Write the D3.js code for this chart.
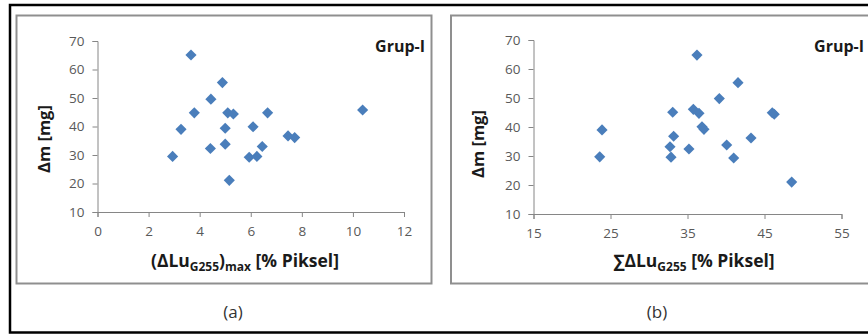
<!DOCTYPE html>
<html>
<head>
<meta charset="utf-8">
<script src="https://cdn.jsdelivr.net/npm/d3@7"></script>
<style>
  html, body { margin: 0; padding: 0; background: #fff; }
  svg { display: block; font-family: "Open Sans", "DejaVu Sans", sans-serif; }
</style>
</head>
<body>
<svg id="chart" width="868" height="335"></svg>
<script>
// Panel (a): maximum luminance change vs. mass loss
const maxLuX = [3.66, 4.89, 4.44, 3.79, 5.10, 5.32, 6.66, 10.38, 3.27, 5.00,
                6.09, 7.46, 7.72, 4.42, 5.00, 6.45, 2.94, 5.94, 6.24, 5.16];
const maxLuY = [65.1, 55.4, 49.6, 44.8, 44.8, 44.4, 44.8, 45.8, 39.0, 39.4,
                39.9, 36.7, 36.1, 32.3, 33.8, 33.0, 29.5, 29.2, 29.5, 21.1];

// Panel (b): summed luminance change vs. mass loss
const sumLuX = [36.23, 41.56, 39.13, 33.08, 35.76, 36.49, 46.01, 46.27, 23.90, 36.88,
                37.14, 33.20, 43.25, 32.73, 35.19, 40.09, 23.60, 32.86, 41.00, 48.53];
const sumLuY = [64.8, 55.3, 49.8, 45.1, 46.1, 44.7, 44.9, 44.4, 39.0, 40.1,
                39.2, 36.8, 36.2, 33.2, 32.4, 33.8, 29.7, 29.6, 29.3, 21.0];

const xTicksA = [0, 2, 4, 6, 8, 10, 12];
const xTicksB = [15, 25, 35, 45, 55];
const yTicks = [10, 20, 30, 40, 50, 60, 70];

const svg = d3.select("#chart");
const axisColor = "#868686";
const tickColor = "#595959";
const markColor = "#4a7ebb";

// outer frame
svg.append("path")
  .attr("d", "M880,5 L10,5 L10,332.5 L880,332.5")
  .attr("fill", "none").attr("stroke", "#000").attr("stroke-width", 2.5);

// chart area boxes
svg.append("rect").attr("x", 16.5).attr("y", 15.5).attr("width", 415).attr("height", 268)
  .attr("fill", "none").attr("stroke", "#8f8f8f").attr("stroke-width", 2);
svg.append("rect").attr("x", 451).attr("y", 15.5).attr("width", 430).attr("height", 268)
  .attr("fill", "none").attr("stroke", "#8f8f8f").attr("stroke-width", 2);

function panel(cfg) {
  const x = d3.scaleLinear().domain(cfg.xDomain).range(cfg.xRange);
  const y = d3.scaleLinear().domain([10, 70]).range(cfg.yRange);
  const g = svg.append("g");

  const xAxis = g.append("g")
    .attr("transform", `translate(0,${cfg.yRange[0]})`)
    .call(d3.axisBottom(x).tickValues(cfg.xTicks).tickSize(5).tickPadding(9).tickFormat(d3.format("d")));
  const yAxis = g.append("g")
    .attr("transform", `translate(${cfg.xRange[0]},0)`)
    .call(d3.axisLeft(y).tickValues(yTicks).tickSize(5).tickPadding(8).tickFormat(d3.format("d")));
  [xAxis, yAxis].forEach(a => {
    a.select(".domain").attr("stroke", axisColor);
    a.selectAll(".tick line").attr("stroke", axisColor);
    a.selectAll(".tick text").attr("fill", tickColor)
      .style("font-size", "13.5px").style("font-family", "'Open Sans', sans-serif");
  });

  // diamond markers: a square turned by 45 degrees
  const diamond = d3.symbol().type(d3.symbolSquare).size(62);
  g.selectAll("path.pt").data(cfg.xs.map((v, i) => [v, cfg.ys[i]]))
    .join("path").attr("class", "pt")
    .attr("d", diamond)
    .attr("transform", d => `translate(${x(d[0])},${y(d[1])}) rotate(45)`)
    .attr("fill", markColor);

  // group label
  g.append("text").attr("x", cfg.grupX).attr("y", 52)
    .attr("text-anchor", "end")
    .style("font-size", "16px").style("font-weight", "bold").attr("fill", "#1a1a1a")
    .text("Grup-I");

  // y title
  g.append("text")
    .attr("transform", `translate(${cfg.yTitleX},${cfg.yTitleY}) rotate(-90)`)
    .attr("text-anchor", "middle")
    .style("font-size", "16.5px").style("font-weight", "bold").attr("fill", "#1a1a1a")
    .text("Δm [mg]");

  // x title with subscripts
  const t = g.append("text").attr("x", cfg.xTitleX).attr("y", 267)
    .attr("text-anchor", "middle")
    .style("font-size", "17.5px").style("font-weight", "bold").attr("fill", "#1a1a1a");
  cfg.xTitle.forEach(part => {
    const s = t.append("tspan").text(part.t);
    if (part.sub) s.attr("dy", 4).style("font-size", "12px");
    else if (part.after) s.attr("dy", -4);
  });

  // caption
  svg.append("text").attr("x", cfg.capX).attr("y", 318)
    .attr("text-anchor", "middle")
    .style("font-size", "17px").attr("fill", "#333")
    .text(cfg.caption);
}

panel({
  xDomain: [0, 12], xRange: [97.5, 404], yRange: [212, 41],
  xTicks: xTicksA, xs: maxLuX, ys: maxLuY,
  grupX: 425, yTitleX: 50, yTitleY: 139, xTitleX: 245, capX: 233,
  xTitle: [{t: "(ΔLu"}, {t: "G255", sub: true}, {t: ")", after: true}, {t: "max", sub: true}, {t: " [% Piksel]", after: true}],
  caption: "(a)"
});

panel({
  xDomain: [15, 55], xRange: [533.5, 841.5], yRange: [214, 40],
  xTicks: xTicksB, xs: sumLuX, ys: sumLuY,
  grupX: 864, yTitleX: 484, yTitleY: 144, xTitleX: 694, capX: 657,
  xTitle: [{t: "∑ΔLu"}, {t: "G255", sub: true}, {t: " [% Piksel]", after: true}],
  caption: "(b)"
});
</script>
</body>
</html>
